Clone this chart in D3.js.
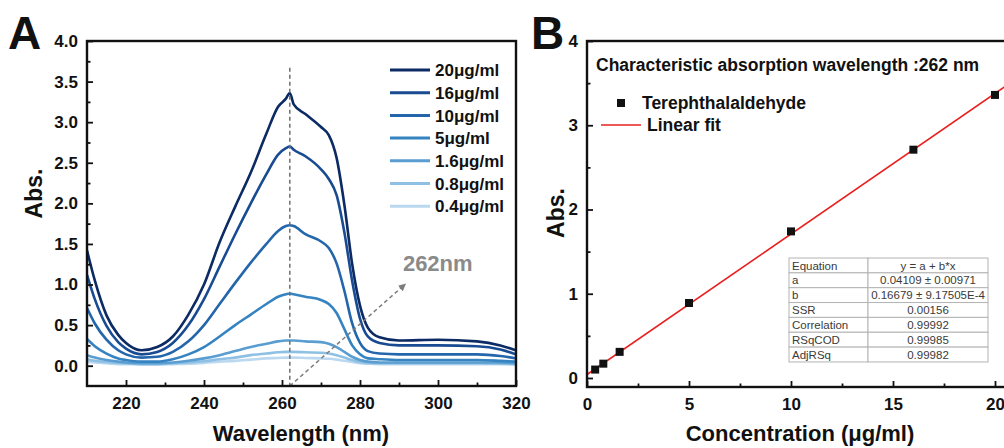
<!DOCTYPE html>
<html>
<head>
<meta charset="utf-8">
<script src="https://cdn.jsdelivr.net/npm/d3@7"></script>
<style>
  body { margin: 0; background: #fff; }
  svg { display: block; font-family: "Liberation Sans", Arial, sans-serif; }
</style>
</head>
<body>
<div id="chart"></div>
<script>
/* ═══ UV-Vis spectra (A) + calibration curve (B) ═══ */

// ── Panel A data: absorbance spectra ──
const wavelengths = [210, 212, 215, 218, 220, 224, 228, 232, 236, 240, 244, 248, 252, 256, 259, 261, 262, 263, 266, 270, 272, 274, 276, 278, 280, 282, 285, 290, 300, 310, 316, 320];
const abs20  = [1.42, 1.05, 0.62, 0.38, 0.28, 0.19, 0.23, 0.36, 0.63, 1.00, 1.52, 1.96, 2.38, 2.86, 3.19, 3.29, 3.36, 3.22, 3.10, 2.94, 2.84, 2.56, 1.98, 1.25, 0.74, 0.47, 0.35, 0.31, 0.32, 0.30, 0.25, 0.19];
const abs16  = [1.12, 0.82, 0.49, 0.29, 0.21, 0.14, 0.17, 0.28, 0.50, 0.82, 1.22, 1.62, 2.00, 2.36, 2.60, 2.68, 2.70, 2.66, 2.58, 2.42, 2.30, 2.10, 1.64, 1.04, 0.58, 0.36, 0.28, 0.25, 0.25, 0.24, 0.20, 0.14];
const abs10  = [0.71, 0.52, 0.32, 0.19, 0.14, 0.10, 0.11, 0.17, 0.30, 0.50, 0.76, 1.02, 1.27, 1.50, 1.66, 1.72, 1.73, 1.72, 1.62, 1.53, 1.45, 1.26, 0.92, 0.52, 0.28, 0.18, 0.15, 0.14, 0.14, 0.14, 0.12, 0.09];
const abs5   = [0.33, 0.24, 0.15, 0.09, 0.07, 0.05, 0.05, 0.08, 0.14, 0.23, 0.36, 0.50, 0.63, 0.76, 0.85, 0.88, 0.89, 0.88, 0.85, 0.81, 0.76, 0.65, 0.45, 0.25, 0.14, 0.09, 0.08, 0.07, 0.07, 0.07, 0.06, 0.05];
const abs1_6 = [0.13, 0.10, 0.07, 0.05, 0.04, 0.03, 0.03, 0.04, 0.06, 0.09, 0.13, 0.18, 0.23, 0.27, 0.30, 0.31, 0.31, 0.31, 0.30, 0.29, 0.27, 0.23, 0.17, 0.11, 0.07, 0.05, 0.04, 0.04, 0.04, 0.04, 0.04, 0.03];
const abs0_8 = [0.08, 0.06, 0.045, 0.035, 0.03, 0.02, 0.02, 0.03, 0.04, 0.055, 0.08, 0.10, 0.13, 0.15, 0.165, 0.17, 0.17, 0.17, 0.165, 0.16, 0.15, 0.13, 0.10, 0.07, 0.045, 0.035, 0.03, 0.03, 0.03, 0.03, 0.025, 0.02];
const abs0_4 = [0.05, 0.04, 0.03, 0.02, 0.02, 0.015, 0.015, 0.02, 0.025, 0.035, 0.05, 0.06, 0.075, 0.09, 0.095, 0.10, 0.10, 0.10, 0.095, 0.09, 0.085, 0.075, 0.06, 0.045, 0.03, 0.025, 0.02, 0.02, 0.02, 0.02, 0.02, 0.015];

const seriesLabels = ['20μg/ml', '16μg/ml', '10μg/ml', '5μg/ml', '1.6μg/ml', '0.8μg/ml', '0.4μg/ml'];
const seriesValues = [abs20, abs16, abs10, abs5, abs1_6, abs0_8, abs0_4];
const seriesColors = ['#0c2a63', '#184b92', '#2466ac', '#3583c1', '#5a9dd0', '#8ec0e4', '#bad8ef'];

const peakWavelength = 262;
const aXTicks = [220, 240, 260, 280, 300, 320];
const aXMinor = [230, 250, 270, 290, 310];
const aYTicks = [0, 0.5, 1, 1.5, 2, 2.5, 3, 3.5, 4];
const aYMinor = [0.25, 0.75, 1.25, 1.75, 2.25, 2.75, 3.25, 3.75];

// ── Panel B data: calibration points + fit ──
const concentrations = [0.4, 0.8, 1.6, 5, 10, 16, 20];
const peakAbs = [0.10, 0.17, 0.31, 0.89, 1.74, 2.71, 3.36];
const fitIntercept = 0.04109;
const fitSlope = 0.16679;
const bXTicks = [0, 5, 10, 15, 20];
const bXMinor = [2.5, 7.5, 12.5, 17.5];
const bYTicks = [0, 1, 2, 3, 4];
const bYMinor = [0.5, 1.5, 2.5, 3.5];
const fitTable = [
  ['Equation', 'y = a + b*x'],
  ['a', '0.04109 ± 0.00971'],
  ['b', '0.16679 ± 9.17505E-4'],
  ['SSR', '0.00156'],
  ['Correlation', '0.99992'],
  ['RSqCOD', '0.99985'],
  ['AdjRSq', '0.99982']
];

const W = 1004, H = 448;
const svg = d3.select('#chart').append('svg')
  .attr('width', W).attr('height', H)
  .style('overflow', 'hidden');

const defs = svg.append('defs');
defs.append('marker')
  .attr('id', 'arrowGray').attr('viewBox', '0 -5 10 10')
  .attr('refX', 8).attr('refY', 0)
  .attr('markerWidth', 5).attr('markerHeight', 5)
  .attr('orient', 'auto')
  .append('path').attr('d', 'M0,-5L10,0L0,5Z').attr('fill', '#7d7d7d');

// inward ticks, bold labels, frame drawn separately
function drawAxes(g, x, y, w, h, opt) {
  const fs = '17px';
  const xa = g.append('g').attr('transform', `translate(0,${h})`)
    .call(d3.axisBottom(x).tickValues(opt.xMajor).tickSize(-6).tickPadding(11).tickFormat(opt.xFmt));
  g.append('g').attr('transform', `translate(0,${h})`)
    .call(d3.axisBottom(x).tickValues(opt.xMinor).tickSize(-3.5).tickFormat(''));
  const ya = g.append('g')
    .call(d3.axisLeft(y).tickValues(opt.yMajor).tickSize(-6).tickPadding(9).tickFormat(opt.yFmt));
  g.append('g')
    .call(d3.axisLeft(y).tickValues(opt.yMinor).tickSize(-3.5).tickFormat(''));
  g.selectAll('.domain').remove();
  g.selectAll('.tick line').attr('stroke', '#111').attr('stroke-width', 1.8);
  [xa, ya].forEach(a => a.selectAll('text')
    .attr('font-family', '"Liberation Sans", Arial, sans-serif')
    .attr('font-size', fs).attr('font-weight', 700).attr('fill', '#111'));
  g.append('rect').attr('width', w).attr('height', h)
    .attr('fill', 'none').attr('stroke', '#111').attr('stroke-width', 2.4);
}

// ════════ Panel A ════════
const aL = 87, aT = 41, aW = 429, aH = 345;
const gA = svg.append('g').attr('transform', `translate(${aL},${aT})`);
const xA = d3.scaleLinear().domain([210, 320]).range([0, aW]);
const yA = d3.scaleLinear().domain([-0.25, 4.0]).range([aH, 0]);

defs.append('clipPath').attr('id', 'clipA')
  .append('rect').attr('width', aW).attr('height', aH);

const plotA = gA.append('g').attr('clip-path', 'url(#clipA)');

// draw faintest first so darker curves sit on top
const lineA = d3.line().curve(d3.curveMonotoneX)
  .x(d => xA(d[0])).y(d => yA(d[1]));
seriesValues.map((vals, i) => i).reverse().forEach(i => {
  plotA.append('path')
    .datum(wavelengths.map((w, k) => [w, seriesValues[i][k]]))
    .attr('d', lineA)
    .attr('fill', 'none')
    .attr('stroke', seriesColors[i])
    .attr('stroke-width', 2.6)
    .attr('stroke-linejoin', 'round');
});

// dashed marker at the peak wavelength
plotA.append('line')
  .attr('x1', xA(peakWavelength)).attr('x2', xA(peakWavelength))
  .attr('y1', yA(3.67)).attr('y2', aH)
  .attr('stroke', '#6f6f6f').attr('stroke-width', 1.5)
  .attr('stroke-dasharray', '4,3');

// dashed arrow to the "262nm" note
gA.append('line')
  .attr('x1', xA(peakWavelength)).attr('y1', aH)
  .attr('x2', xA(291.5)).attr('y2', yA(1.0))
  .attr('stroke', '#7d7d7d').attr('stroke-width', 1.5)
  .attr('stroke-dasharray', '4,3')
  .attr('marker-end', 'url(#arrowGray)');

gA.append('text')
  .attr('x', xA(291)).attr('y', yA(1.17))
  .attr('font-size', '22px').attr('font-weight', 700).attr('fill', '#8a8a8a')
  .text('262nm');

drawAxes(gA, xA, yA, aW, aH, {
  xMajor: aXTicks, xMinor: aXMinor, yMajor: aYTicks, yMinor: aYMinor,
  xFmt: d3.format('d'), yFmt: d3.format('.1f')
});

// legend A
const legA = gA.append('g').attr('transform', `translate(${390 - aL},${70 - aT})`);
seriesLabels.forEach((lab, i) => {
  const row = legA.append('g').attr('transform', `translate(0,${i * 22.7})`);
  row.append('line').attr('x1', 0).attr('x2', 40)
    .attr('stroke', seriesColors[i]).attr('stroke-width', 3);
  row.append('text').attr('x', 45).attr('dy', '0.36em')
    .attr('font-size', '17px').attr('font-weight', 700).attr('fill', '#111')
    .text(lab);
});

// titles A
svg.append('text').attr('x', 8).attr('y', 49)
  .attr('font-size', '46px').attr('font-weight', 700).attr('fill', '#111').text('A');
svg.append('text')
  .attr('transform', `translate(42,${aT + aH / 2 - 20}) rotate(-90)`)
  .attr('text-anchor', 'middle')
  .attr('font-size', '23px').attr('font-weight', 700).attr('fill', '#111')
  .text('Abs.');
svg.append('text').attr('x', 301).attr('y', 441)
  .attr('text-anchor', 'middle')
  .attr('font-size', '22px').attr('font-weight', 700).attr('fill', '#111')
  .text('Wavelength (nm)');

// ════════ Panel B ════════
const bL = 587, bT = 41, bH = 346, bW = 430;
const gB = svg.append('g').attr('transform', `translate(${bL},${bT})`);
const xB = d3.scaleLinear().domain([0, 21]).range([0, 21 * 20.4]);
const yB = d3.scaleLinear().domain([-0.107, 4]).range([bH, 0]);

defs.append('clipPath').attr('id', 'clipB')
  .append('rect').attr('width', bW).attr('height', bH);
const plotB = gB.append('g').attr('clip-path', 'url(#clipB)');

// fit table (behind the line)
const tbl = gB.append('g').attr('transform', `translate(${789 - bL},${258 - bT})`);
const colW = [79, 120], rowH = 14.85;
fitTable.forEach((r, i) => {
  tbl.append('rect').attr('x', 0).attr('y', i * rowH)
    .attr('width', colW[0]).attr('height', rowH)
    .attr('fill', '#fff').attr('stroke', '#b3b3b3').attr('stroke-width', 1);
  tbl.append('rect').attr('x', colW[0]).attr('y', i * rowH)
    .attr('width', colW[1]).attr('height', rowH)
    .attr('fill', '#fff').attr('stroke', '#b3b3b3').attr('stroke-width', 1);
  tbl.append('text').attr('x', 3).attr('y', i * rowH + rowH / 2).attr('dy', '0.36em')
    .attr('font-size', '11.5px').attr('fill', '#3a3a3a').text(r[0]);
  tbl.append('text').attr('x', colW[0] + colW[1] / 2).attr('y', i * rowH + rowH / 2).attr('dy', '0.36em')
    .attr('text-anchor', 'middle')
    .attr('font-size', '11.5px').attr('fill', '#3a3a3a').text(r[1]);
});

// linear fit line
plotB.append('line')
  .attr('x1', xB(0)).attr('y1', yB(fitIntercept))
  .attr('x2', xB(21)).attr('y2', yB(fitIntercept + fitSlope * 21))
  .attr('stroke', '#e8201f').attr('stroke-width', 1.6);

// data points
plotB.selectAll('rect.pt').data(concentrations).join('rect')
  .attr('class', 'pt')
  .attr('x', (d) => xB(d) - 4)
  .attr('y', (d, i) => yB(peakAbs[i]) - 4)
  .attr('width', 8).attr('height', 8)
  .attr('fill', '#111');

drawAxes(gB, xB, yB, bW, bH, {
  xMajor: bXTicks, xMinor: bXMinor, yMajor: bYTicks, yMinor: bYMinor,
  xFmt: d3.format('d'), yFmt: d3.format('d')
});

// title + legend B
gB.append('text').attr('x', 596 - bL).attr('y', 71 - bT)
  .attr('font-size', '17.5px').attr('font-weight', 700).attr('fill', '#111')
  .text('Characteristic absorption wavelength :262 nm');
gB.append('rect').attr('x', 621 - bL - 4).attr('y', 103 - bT - 4)
  .attr('width', 8).attr('height', 8).attr('fill', '#111');
gB.append('text').attr('x', 642 - bL).attr('y', 103 - bT).attr('dy', '0.36em')
  .attr('font-size', '17.5px').attr('font-weight', 700).attr('fill', '#111')
  .text('Terephthalaldehyde');
gB.append('line').attr('x1', 601 - bL).attr('x2', 641 - bL)
  .attr('y1', 125 - bT).attr('y2', 125 - bT)
  .attr('stroke', '#e8201f').attr('stroke-width', 1.6);
gB.append('text').attr('x', 647 - bL).attr('y', 125 - bT).attr('dy', '0.36em')
  .attr('font-size', '17.5px').attr('font-weight', 700).attr('fill', '#111')
  .text('Linear fit');

svg.append('text').attr('x', 531).attr('y', 49)
  .attr('font-size', '46px').attr('font-weight', 700).attr('fill', '#111').text('B');
svg.append('text')
  .attr('transform', `translate(564,${213}) rotate(-90)`)
  .attr('text-anchor', 'middle')
  .attr('font-size', '23px').attr('font-weight', 700).attr('fill', '#111')
  .text('Abs.');
svg.append('text').attr('x', 800).attr('y', 441)
  .attr('text-anchor', 'middle')
  .attr('font-size', '22px').attr('font-weight', 700).attr('fill', '#111')
  .text('Concentration (μg/ml)');
</script>
</body>
</html>
